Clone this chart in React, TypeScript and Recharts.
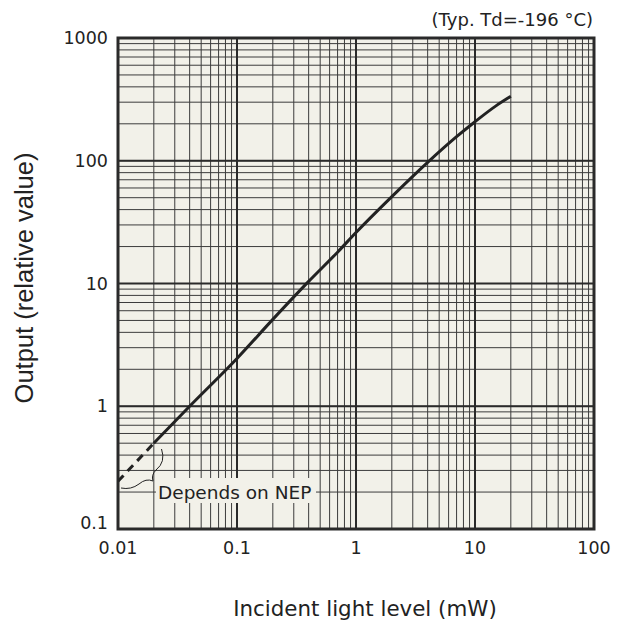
import React from 'react';
import {
  LineChart,
  Line,
  XAxis,
  YAxis,
  CartesianGrid,
  ReferenceLine,
  ReferenceArea,
} from 'recharts';

// incident light level (mW) vs. output (relative value)
const incidentLevel = [0.02, 0.04, 0.1, 0.2, 0.4, 0.7, 1, 2, 4, 7, 10, 15, 20];
const outputValue = [0.5, 1.0, 2.45, 5.1, 10.4, 18, 26, 51, 97, 157, 208, 280, 335];

// dashed part below 0.02 mW (depends on NEP)
const nepLevel = [0.01, 0.02];
const nepOutput = [0.245, 0.5];

const xDecades = [0.01, 0.1, 1, 10, 100];
const xDecadeLabels = ['0.01', '0.1', '1', '10', '100'];
const yDecades = [0.1, 1, 10, 100, 1000];
const yDecadeLabels = ['0.1', '1', '10', '100', '1000'];

const FONT = '"DejaVu Sans", Verdana, sans-serif';
const INK = '#222';

// 1..9 per decade, for the log grid
const minorTicks = (decades: number[]) => {
  const out: number[] = [];
  decades.forEach((d, i) => {
    if (i === decades.length - 1) {
      out.push(d);
      return;
    }
    for (let k = 1; k <= 9; k++) out.push(+(d * k).toPrecision(6));
  });
  return out;
};

const xTicks = minorTicks(xDecades);
const yTicks = minorTicks(yDecades);

const mainData = incidentLevel.map((x, i) => ({ x, y: outputValue[i] }));
const nepData = nepLevel.map((x, i) => ({ x, y: nepOutput[i] }));

const fmt = (decades: number[], labels: string[]) => (v: number) => {
  const i = decades.indexOf(v);
  return i >= 0 ? labels[i] : '';
};
const fmtX = fmt(xDecades, xDecadeLabels);
const fmtY = fmt(yDecades, yDecadeLabels);

const YTick = (props: any) => {
  const { x, y, payload } = props;
  const label = fmtY(payload.value);
  if (!label) return null;
  // bottom label sits a bit higher so it clears the 0.01 label
  const shift = payload.value === yDecades[0] ? -6 : 0;
  return (
    <text
      x={x}
      y={y + shift}
      textAnchor="end"
      dominantBaseline="central"
      fill={INK}
      fontSize={17.5}
      fontFamily={FONT}
    >
      {label}
    </text>
  );
};

export default function App() {
  return (
    <div style={{ position: 'absolute', left: 0, top: 0, width: 642, height: 625 }}>
      <LineChart width={642} height={625} margin={{ top: 38, right: 48, bottom: 66, left: 58 }}>
        <CartesianGrid
          fill="#f2f1e9"
          fillOpacity={1}
          stroke="#3c3c3c"
          strokeWidth={1}
          horizontal
          vertical
        />
        <XAxis
          dataKey="x"
          type="number"
          scale="log"
          domain={[0.01, 100]}
          allowDataOverflow
          ticks={xTicks}
          interval={0}
          tickFormatter={fmtX}
          tickLine={false}
          axisLine={false}
          tickMargin={7}
          height={30}
          tick={{ fill: INK, fontSize: 17.5, fontFamily: FONT }}
          label={{
            content: () => (
              <text
                x={365}
                y={616}
                textAnchor="middle"
                fill={INK}
                fontSize={21.4}
                fontFamily={FONT}
              >
                Incident light level (mW)
              </text>
            ),
          }}
        />
        <YAxis
          dataKey="y"
          type="number"
          scale="log"
          domain={[0.1, 1000]}
          allowDataOverflow
          ticks={yTicks}
          interval={0}
          tickLine={false}
          axisLine={false}
          tickMargin={4}
          width={60}
          tick={<YTick />}
          label={{
            content: () => {
              const cx = 24;
              const cy = 278;
              return (
                <text
                  x={cx}
                  y={cy}
                  transform={`rotate(-90, ${cx}, ${cy})`}
                  textAnchor="middle"
                  dominantBaseline="central"
                  fill={INK}
                  fontSize={25.5}
                  fontFamily='"Liberation Sans", Arial, sans-serif'
                >
                  Output (relative value)
                </text>
              );
            },
          }}
        />
        {xDecades.slice(1, -1).map((v) => (
          <ReferenceLine key={'xd' + v} x={v} stroke="#2a2a2a" strokeWidth={2} />
        ))}
        {yDecades.slice(1, -1).map((v) => (
          <ReferenceLine key={'yd' + v} y={v} stroke="#2a2a2a" strokeWidth={2} />
        ))}
        <ReferenceArea
          x1={0.01}
          x2={100}
          y1={0.1}
          y2={1000}
          fill="none"
          stroke="#2a2a2a"
          strokeWidth={3}
        />
        <Line
          data={nepData}
          dataKey="y"
          type="linear"
          stroke={INK}
          strokeWidth={3}
          strokeDasharray="8 6"
          dot={false}
          activeDot={false}
          isAnimationActive={false}
        />
        <Line
          data={mainData}
          dataKey="y"
          type="monotone"
          stroke={INK}
          strokeWidth={3}
          dot={false}
          activeDot={false}
          isAnimationActive={false}
        />
      </LineChart>
      <svg
        width={642}
        height={625}
        style={{ position: 'absolute', left: 0, top: 0, pointerEvents: 'none' }}
      >
        <text x={593} y={26} textAnchor="end" fill={INK} fontSize={18} fontFamily={FONT}>
          (Typ. Td=-196 °C)
        </text>
        <path
          d="M 161.5 449 Q 166 462 156 470 Q 151 475 153 481 Q 146 478 139 484 Q 131 490 121 488"
          fill="none"
          stroke={INK}
          strokeWidth={1}
        />
        <rect x={156} y={478} width={160} height={25} fill="#f2f1e9" />
        <text x={158} y={498.5} fill={INK} fontSize={18.5} fontFamily={FONT}>
          Depends on NEP
        </text>
      </svg>
    </div>
  );
}
